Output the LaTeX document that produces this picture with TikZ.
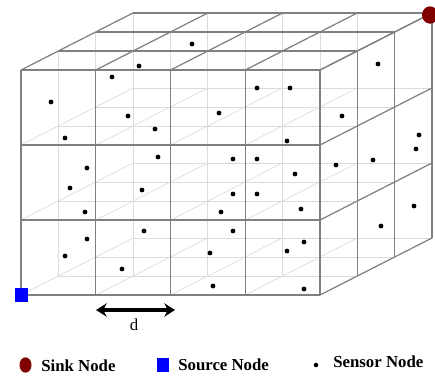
\documentclass[tikz,border=0pt]{standalone}
\usepackage{fontspec}
\setmainfont{Liberation Serif}
\usetikzlibrary{arrows.meta,shapes.geometric}
\definecolor{sinkred}{RGB}{128,0,0}
\definecolor{srcblue}{RGB}{0,0,255}
\begin{document}
\begin{tikzpicture}[x=0.75pt,y=-0.75pt,
  lat/.style={black!14,line width=0.5pt},
  edgeline/.style={black!50,line width=0.9pt},
  sensor/.style={circle,fill=black,inner sep=0pt,minimum size=3.6pt},
  legtext/.style={font=\bfseries\fontsize{12.6}{14}\selectfont,anchor=base west,inner sep=0pt}]
\fill[white] (0,0) rectangle (435,376);
\useasboundingbox (0,0) rectangle (435,376);
\begin{scope}[shift={(21,70)},x={(56.06pt,0pt)},y={(0pt,-56.25pt)},z={(28pt,14.25pt)}]
  % faint interior lattice
  \foreach \j in {0,...,3}{\foreach \k in {0,...,3}{\draw[lat] (0,\j,\k) -- (4,\j,\k);}}
  \foreach \i in {0,...,4}{\foreach \k in {0,...,3}{\draw[lat] (\i,0,\k) -- (\i,3,\k);}}
  \foreach \i in {0,...,4}{\foreach \j in {0,...,3}{\draw[lat] (\i,\j,0) -- (\i,\j,3);}}
  % visible front face
  \foreach \j in {0,...,3}{\draw[edgeline] (0,\j,0) -- (4,\j,0);}
  \foreach \i in {0,...,4}{\draw[edgeline] (\i,0,0) -- (\i,3,0);}
  % top face
  \foreach \k in {1,...,3}{\draw[edgeline] (0,0,\k) -- (4,0,\k);}
  \foreach \i in {0,...,4}{\draw[edgeline] (\i,0,0) -- (\i,0,3);}
  % right face
  \foreach \k in {1,...,3}{\draw[edgeline] (4,0,\k) -- (4,3,\k);}
  \foreach \j in {0,...,3}{\draw[edgeline] (4,\j,0) -- (4,\j,3);}
\end{scope}
% sensor nodes
\foreach \p [count=\n] in {(192,44),(139,66),(112,77),(51,102),(128,116),(155,129),(65,138),(158,157),(219,113),
  (378,64),(257,88),(290,88),(342,116),(287,141),(419,135),(416,149),(233,159),(257,159),(373,160),
  (87,168),(70,188),(142,190),(85,212),(87,239),(65,256),(122,269),(144,231),(210,253),(213,286),
  (336,165),(295,174),(233,194),(257,194),(221,212),(301,209),(233,231),(304,242),(287,251),(304,289),(414,206),(381,226)}
  {\node[sensor] (s\n) at \p {};}
% sink and source
\node[ellipse,fill=sinkred,inner sep=0pt,minimum width=12pt,minimum height=13pt] (sink) at (430,15) {};
\node[rectangle,fill=srcblue,inner sep=0pt,minimum size=9.8pt] (source) at (21.5,295) {};
% distance d
\coordinate (da) at (96,310);
\coordinate (db) at (175,310);
\draw[{Stealth[length=8pt,width=10pt]}-{Stealth[length=8pt,width=10pt]},line width=2.6pt] (da) -- (db);
\node[font=\fontsize{12.6}{14}\selectfont,anchor=base,inner sep=0pt] (dlab) at (134,330) {d};
% legend
\node[ellipse,fill=sinkred,inner sep=0pt,minimum width=9pt,minimum height=11.5pt] (legsink) at (25.5,365) {};
\node[legtext] (legsinktext) at (41,371) {Sink Node};
\node[rectangle,fill=srcblue,inner sep=0pt,minimum width=9pt,minimum height=11pt] (legsrc) at (163,365) {};
\node[legtext] (legsrctext) at (178,370) {Source Node};
\node[circle,fill=black,inner sep=0pt,minimum size=3.4pt] (legsensor) at (316,365) {};
\node[legtext] (legsensortext) at (333,367) {Sensor Node};
\end{tikzpicture}
\end{document}
